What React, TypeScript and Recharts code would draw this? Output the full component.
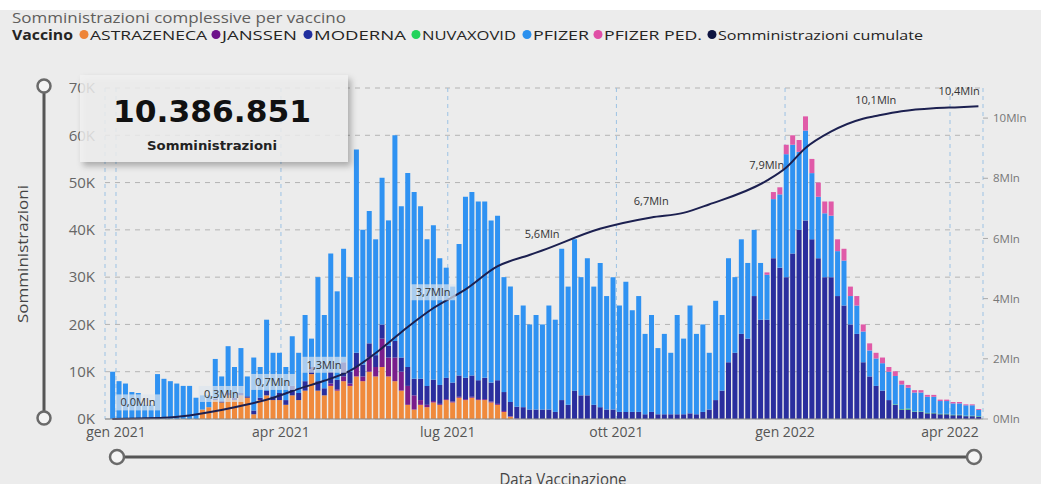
import { Bar, CartesianGrid, ComposedChart, LabelList, Line, XAxis, YAxis } from 'recharts'

const FONT = '"Segoe UI", "Open Sans", sans-serif'

// two bars per week (mid-week and weekend), first week starts Mon 28 dic 2020, values in thousands
const weekCount = 68

const pfizer = [
  10, 8, 7.5, 5.7, 5.5, 3, 3, 9.5, 8.5, 8, 7.5, 7, 7, 4.5, 3, 2.5, 8.4, 5.2, 9.9, 6.5,
  9.5, 4.2, 11.2, 6.5, 15, 9.2, 8.5, 7, 10.5, 8.5, 14, 6, 22, 15.5, 25, 18.7, 24, 20, 43, 28.5,
  28, 24.5, 31, 26.5, 43.5, 32, 41, 39.5, 36.5, 31, 32.7, 26.8, 23.3, 20.3, 27.8, 38.3, 38.8, 37.8, 37.3, 34.3,
  34.8, 24.3, 24.4, 19.4, 21.5, 18, 20, 18, 22, 19.5, 32, 25, 32, 25, 29, 25, 30.5, 24, 28, 22.5,
  27.5, 21.5, 24.5, 17, 20.5, 14, 17, 13, 21, 16, 22.8, 17, 18.5, 12, 21, 16, 22, 16, 20, 16,
  14, 12, 9.5, 12.5, 15.5, 26, 23, 16.5, 19, 14, 13, 13.5, 13, 9.5, 9.5, 6, 6, 6.5, 5.5, 5.8,
  5.8, 6, 6, 5.2, 4.4, 4, 4, 3.4, 3.4, 2.7, 2.7, 2.4, 2.4, 2.2, 2.2, 1.3,
]

const astrazenecaStart = 7
const astrazeneca = [
  2, 2.5, 4, 3.5, 5, 4, 5, 4.5, 1, 4, 5, 4, 4, 3, 5, 4, 6, 9.5, 6, 5,
  7, 6, 8, 7, 9, 8, 10, 9, 11, 9, 8, 6, 3, 2, 3, 2.5, 3.5, 3, 4, 3.5,
  4.5, 4, 4.5, 4, 4, 3.5, 3, 1.5, 0.5, 0,
]

const janssenStart = 17
const janssen = [
  0.5, 0.3, 1, 0.5, 2, 1, 3, 2, 6, 4, 5, 4, 4, 3, 1, 0.5, 0.3, 0.2, 0.2, 0.2,
  0.2, 0.2, 0.2, 0.2, 0.2, 0.2, 0.2, 0.2, 0.1, 0.1,
]

const modernaStart = 8
const moderna = [
  0.3, 0.3, 0.5, 0.5, 0.5, 0.3, 0.8, 0.5, 1, 0.8, 1.5, 1, 2, 1.5, 2, 1.5, 2, 1.5, 2.5, 2,
  3, 2.5, 3, 2.5, 3, 2.5, 3, 2.5, 3.5, 3, 4, 3.5, 4.5, 4, 4.5, 4, 4.5, 4, 4.5, 4.5,
  4.5, 4, 4.5, 4, 5, 4, 3, 2.5, 2.5, 2, 2, 2, 2, 1.5, 4, 3, 6, 5, 5, 3,
  2.5, 2, 2, 1.5, 1.5, 1.5, 1.5, 1, 1.5, 1, 1, 1, 1, 1, 1.2, 1, 1.5, 2, 4, 6,
  12, 14, 18, 17, 26, 21, 21, 34, 32, 30, 35, 40, 42, 38, 34, 30, 30, 26, 24, 20,
  18, 12, 9, 7, 6, 4, 3, 2, 2, 1.5, 1.5, 1.2, 1.2, 1, 1, 0.8, 0.8, 0.6, 0.6, 0.5,
]

const nuvaxovidStart = 61
const nuvaxovid = [0.1, 0.1, 0.2, 0.1, 0.1, 0.1, 0.1, 0.1, 0.1, 0.1, 0.1, 0.1, 0.1, 0.1]

const pfizerPedStart = 51
const pfizerPed = [
  0.5, 1.5, 1.5, 2, 2, 2.5, 3, 3, 3, 2.5, 3, 2.5, 2.5, 2, 2, 1.5, 1.5, 1.2, 1.2, 1,
  1, 0.8, 0.6, 0.5, 0.5, 0.4, 0.4, 0.3, 0.3, 0.3, 0.3, 0.2, 0.2, 0.2,
]

// cumulative administrations, millions (day 0 = 1 gen 2021)
const cumDays = [
  -2, 12, 26, 40, 57.5, 71.5, 85.5, 99.5, 113.5, 127.5, 145, 159, 173, 190.5, 208, 225.5, 232.5, 264, 292, 309.5,
  323.5, 355, 365.5, 376, 390, 407.5, 414.5, 428.5, 446, 460, 470.5,
]
const cumValues = [
  0, 0.02, 0.04, 0.12, 0.3, 0.48, 0.7, 1.0, 1.27, 1.6, 2.35, 3.05, 3.68, 4.3, 5.07, 5.45, 5.6, 6.32, 6.7, 6.85,
  7.13, 7.92, 8.35, 9.0, 9.55, 9.98, 10.07, 10.23, 10.33, 10.36, 10.39,
]
const cumLabelDays = [12, 57.5, 85.5, 113.5, 173, 232.5, 292, 355, 414.5, 460]
const boxedLabelDays = [12, 57.5, 85.5, 113.5, 173]

const tickDays = [0, 90, 181, 273, 365, 455]
const tickLabels = ['gen 2021', 'apr 2021', 'lug 2021', 'ott 2021', 'gen 2022', 'apr 2022']
const leftTicks = [0, 10, 20, 30, 40, 50, 60, 70]
const rightTicks = [0, 2, 4, 6, 8, 10]

const totalLabel = '10.386.851'

const legendItems = [
  { name: 'ASTRAZENECA', color: '#ee8437' },
  { name: 'JANSSEN', color: '#6d138a' },
  { name: 'MODERNA', color: '#1f2e9e' },
  { name: 'NUVAXOVID', color: '#22d35b' },
  { name: 'PFIZER', color: '#2a90ee' },
  { name: 'PFIZER PED.', color: '#e04fa6' },
  { name: 'Somministrazioni cumulate', color: '#0f1440' },
]
const legendDotX = [84, 216, 308, 416, 527, 598, 712]
const legendTextW = [117, 75, 92, 94, 56, 98, 205]

type Row = {
  day: number
  az?: number
  jan?: number
  mod?: number
  nuva?: number
  pfz?: number
  ped?: number
  cum?: number
  cumLabel?: string
}

const pick = (arr: number[], start: number, i: number) => {
  const j = i - start * 2
  return j >= 0 && j < arr.length ? arr[j] : 0
}

const byDay = new Map<number, Row>()
for (let i = 0; i < weekCount * 2; i++) {
  const day = 7 * Math.floor(i / 2) - 2 + (i % 2) * 3.5
  byDay.set(day, {
    day,
    az: pick(astrazeneca, astrazenecaStart, i),
    jan: pick(janssen, janssenStart, i),
    mod: pick(moderna, modernaStart, i),
    nuva: pick(nuvaxovid, nuvaxovidStart, i),
    pfz: pick(pfizer, 0, i),
    ped: pick(pfizerPed, pfizerPedStart, i),
  })
}
cumDays.forEach((d, k) => {
  const r = byDay.get(d) ?? { day: d }
  r.cum = cumValues[k]
  if (cumLabelDays.includes(d)) r.cumLabel = cumValues[k].toFixed(1).replace('.', ',') + 'Mln'
  byDay.set(d, r)
})
const rows = [...byDay.values()].sort((a, b) => a.day - b.day)

const CumLabel = (props: any) => {
  const { x, y, value, index } = props
  if (!value || x == null || y == null) return null
  const row = rows[index]
  const boxed = row && boxedLabelDays.includes(row.day)
  const w = value.length * 6.2 + 8
  return (
    <g>
      {boxed && (
        <rect x={x - w / 2} y={y - 24} width={w} height={16} fill='#dde6ee' fillOpacity={0.7} />
      )}
      <text x={x} y={y - 12} textAnchor='middle' fontSize={11} fontFamily={FONT} fill='#333'>
        {value}
      </text>
    </g>
  )
}

export default function App() {
  return (
    <div
      style={{
        position: 'absolute',
        left: 0,
        top: 0,
        width: 1041,
        height: 484,
        background: '#ececec',
        overflow: 'hidden',
        fontFamily: FONT,
      }}
    >
      <div style={{ position: 'absolute', left: 0, top: 0, width: 1041, height: 10, background: '#fff' }} />
      <div style={{ position: 'absolute', left: 0, top: 0 }}>
        <ComposedChart width={1041} height={484} data={rows} margin={{ top: 88, right: 0, bottom: 35, left: 0 }}>
          <CartesianGrid yAxisId='k' vertical={false} stroke='#b4b4b4' strokeDasharray='5 5' />
          <CartesianGrid yAxisId='k' horizontal={false} stroke='#9cc2e4' strokeDasharray='4 4' />
          <XAxis
            type='number'
            dataKey='day'
            domain={[-6, 473]}
            ticks={tickDays}
            allowDataOverflow
            tickFormatter={(v: number) => tickLabels[tickDays.indexOf(v)] ?? ''}
            axisLine={{ stroke: '#8c8c8c' }}
            tickLine={false}
            tick={{ fill: '#555', fontSize: 14, fontFamily: FONT }}
            height={30}
          />
          <YAxis
            yAxisId='k'
            domain={[0, 70]}
            ticks={leftTicks}
            tickFormatter={(v: number) => `${v}K`}
            axisLine={false}
            tickLine={false}
            tickMargin={4}
            tick={{ fill: '#666', fontSize: 15, fontFamily: FONT }}
            width={105}
          />
          <YAxis
            yAxisId='m'
            orientation='right'
            domain={[0, 11]}
            ticks={rightTicks}
            tickFormatter={(v: number) => `${v}Mln`}
            axisLine={false}
            tickLine={{ stroke: '#aaa' }}
            tickSize={5}
            tickMargin={5}
            tick={{ fill: '#777', fontSize: 11.5, fontFamily: FONT }}
            width={58}
          />
          <Bar yAxisId='k' dataKey='az' stackId='v' fill='#f08a3c' barSize={5} isAnimationActive={false} />
          <Bar yAxisId='k' dataKey='jan' stackId='v' fill='#7a1d8c' barSize={5} isAnimationActive={false} />
          <Bar yAxisId='k' dataKey='mod' stackId='v' fill='#2a2e9e' barSize={5} isAnimationActive={false} />
          <Bar yAxisId='k' dataKey='nuva' stackId='v' fill='#22d35b' barSize={5} isAnimationActive={false} />
          <Bar yAxisId='k' dataKey='pfz' stackId='v' fill='#2f92f2' barSize={5} isAnimationActive={false} />
          <Bar yAxisId='k' dataKey='ped' stackId='v' fill='#e05aa8' barSize={5} isAnimationActive={false} />
          <Line
            yAxisId='m'
            dataKey='cum'
            type='monotone'
            stroke='#1c2050'
            strokeWidth={2}
            dot={false}
            connectNulls
            isAnimationActive={false}
          >
            <LabelList dataKey='cumLabel' content={CumLabel} />
          </Line>
        </ComposedChart>
      </div>
      <svg
        width={1041}
        height={484}
        style={{ position: 'absolute', left: 0, top: 0, pointerEvents: 'none' }}
        fontFamily={FONT}
      >
        <defs>
          <filter id='cardShadow' x='-10%' y='-20%' width='125%' height='150%'>
            <feDropShadow dx={3} dy={4} stdDeviation={3} floodColor='#000' floodOpacity={0.35} />
          </filter>
        </defs>
        <text x={12} y={22.5} fontSize={14} fill='#605e5c' textLength={334} lengthAdjust='spacingAndGlyphs'>
          Somministrazioni complessive per vaccino
        </text>
        <text x={12} y={39.5} fontSize={13.5} fontWeight='bold' fill='#252423' textLength={61} lengthAdjust='spacingAndGlyphs'>
          Vaccino
        </text>
        {legendItems.map((it, i) => (
          <g key={it.name}>
            <circle cx={legendDotX[i]} cy={34.5} r={4.5} fill={it.color} />
            <text
              x={legendDotX[i] + 6}
              y={39.5}
              fontSize={13.5}
              fill='#252423'
              textLength={legendTextW[i]}
              lengthAdjust='spacingAndGlyphs'
            >
              {it.name}
            </text>
          </g>
        ))}

        {/* vertical range slider */}
        <line x1={44} y1={86} x2={44} y2={418} stroke='#555' strokeWidth={3} />
        <circle cx={44} cy={86} r={6.5} fill='#f4f4f4' stroke='#6a6a6a' strokeWidth={2.5} />
        <circle cx={44} cy={418} r={6.5} fill='#f4f4f4' stroke='#6a6a6a' strokeWidth={2.5} />
        <text
          x={22}
          y={254}
          transform='rotate(-90 22 254)'
          textAnchor='middle'
          dominantBaseline='central'
          fontSize={15}
          fill='#444'
          textLength={138}
          lengthAdjust='spacingAndGlyphs'
        >
          Somministrazioni
        </text>

        {/* horizontal range slider */}
        <line x1={117} y1={457} x2={974} y2={457} stroke='#555' strokeWidth={3} />
        <circle cx={117} cy={457} r={7} fill='#f4f4f4' stroke='#6a6a6a' strokeWidth={2.5} />
        <circle cx={974} cy={457} r={7} fill='#f4f4f4' stroke='#6a6a6a' strokeWidth={2.5} />
        <text x={563} y={485} textAnchor='middle' fontSize={16} fill='#444' textLength={127} lengthAdjust='spacingAndGlyphs'>
          Data Vaccinazione
        </text>

        {/* KPI card */}
        <rect x={80} y={75} width={268} height={87} fill='#f1f1f1' fillOpacity={0.8} filter='url(#cardShadow)' />
        <text
          x={212}
          y={122}
          textAnchor='middle'
          fontSize={31}
          fontWeight='bold'
          fontFamily='"DejaVu Sans", sans-serif'
          fill='#111'
          textLength={198}
          lengthAdjust='spacingAndGlyphs'
        >
          {totalLabel}
        </text>
        <text
          x={212}
          y={150}
          textAnchor='middle'
          fontSize={13}
          fontWeight='bold'
          fontFamily='"DejaVu Sans", sans-serif'
          fill='#222'
          textLength={130}
          lengthAdjust='spacingAndGlyphs'
        >
          Somministrazioni
        </text>
      </svg>
    </div>
  )
}
